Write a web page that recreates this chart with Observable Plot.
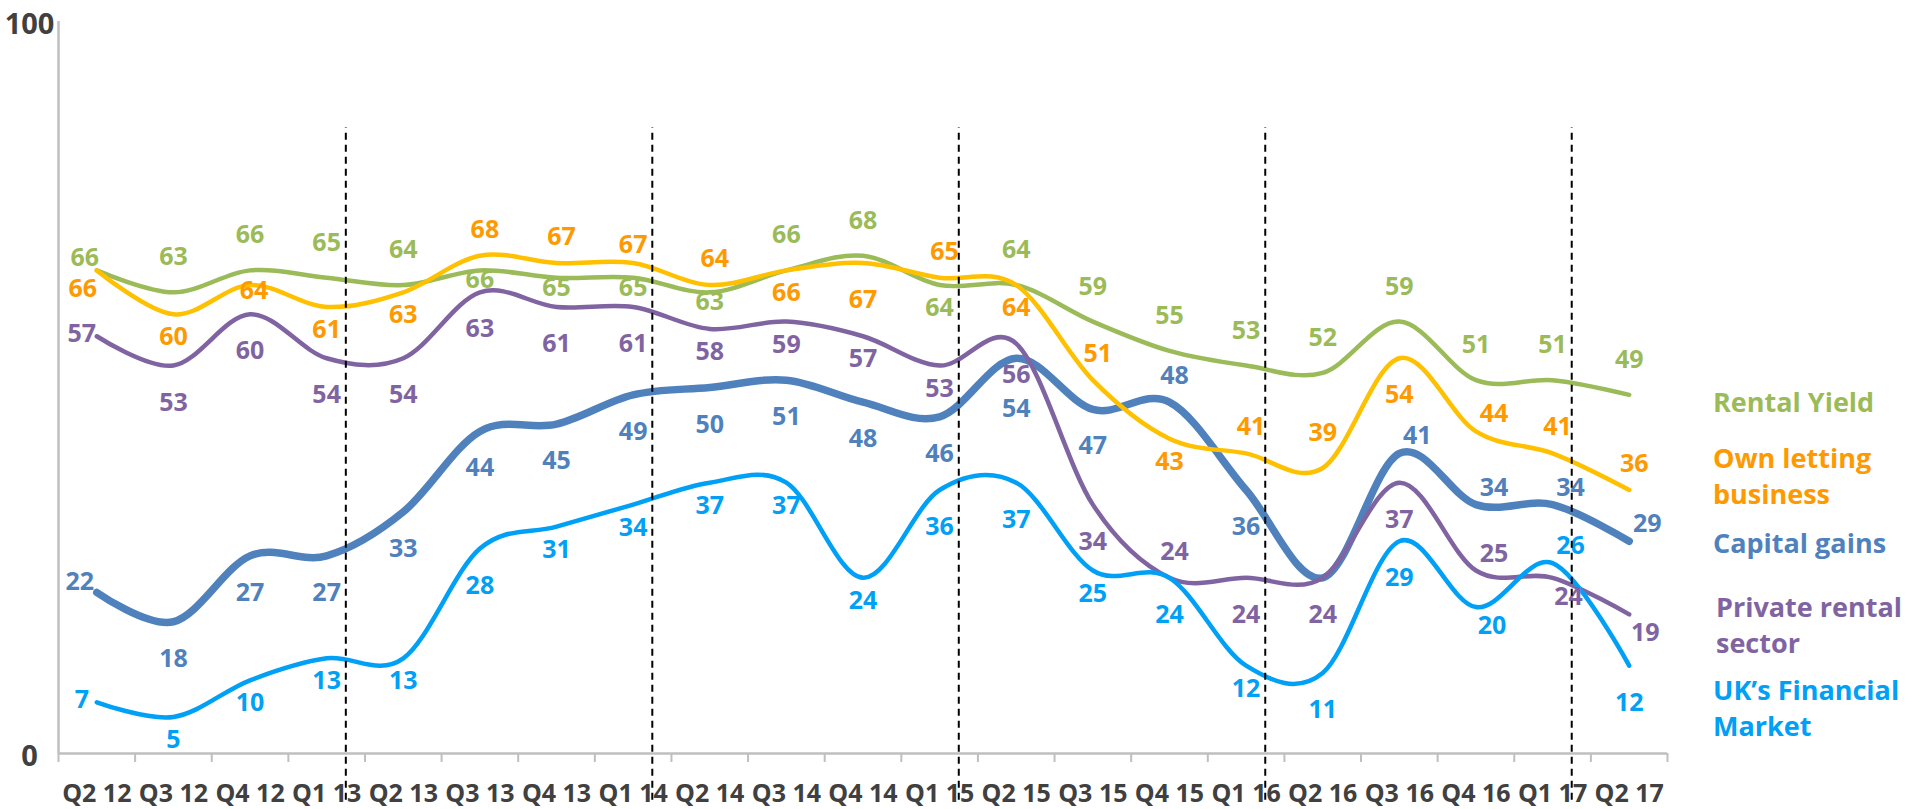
<!DOCTYPE html>
<html>
<head>
<meta charset="utf-8">
<script src="https://cdn.jsdelivr.net/npm/d3@7"></script>
<script src="https://cdn.jsdelivr.net/npm/@observablehq/plot@0.6"></script>
<style>
  html, body { margin: 0; padding: 0; background: #fff; overflow: hidden; }
  #wrap { position: relative; width: 1909px; height: 809px; }
  .leg { position: absolute; left: 1713px; font-family: "Open Sans", "Noto Sans", sans-serif; font-weight: 700; font-size: 27px; line-height: 36px; white-space: nowrap; }
</style>
</head>
<body>
<div id="wrap"></div>
<script>
// ---- data ----
const quarters = ["Q2 12","Q3 12","Q4 12","Q1 13","Q2 13","Q3 13","Q4 13","Q1 14","Q2 14","Q3 14","Q4 14","Q1 15","Q2 15","Q3 15","Q4 15","Q1 16","Q2 16","Q3 16","Q4 16","Q1 17","Q2 17"];
const rentalYield   = [66,63,66,65,64,66,65,65,63,66,68,64,64,59,55,53,52,59,51,51,49];
const ownLetting    = [66,60,64,61,63,68,67,67,64,66,67,65,64,51,43,41,39,54,44,41,36];
const capitalGains  = [22,18,27,27,33,44,45,49,50,51,48,46,54,47,48,36,24,41,34,34,29];
const privateRental = [57,53,60,54,54,63,61,61,58,59,57,53,56,34,24,24,24,37,25,24,19];
const ukFinancial   = [7,5,10,13,13,28,31,34,37,37,24,36,37,25,24,12,11,29,20,26,12];
const seriesNames   = ["Rental Yield", "Own letting business", "Capital gains", "Private rental sector", "UK\u2019s Financial Market"];
const yTicks = [0, 100];
const yearStartQuarter = "Q1";

// ---- styles ----
const FONT = "'Open Sans', 'Noto Sans', sans-serif";
const series = [
  {name: seriesNames[2], values: capitalGains,  line: "#4F81BD", label: "#4F81BD", width: 7.5, place: "kBBBBBBBBBBBDBaBnRRRR"},
  {name: seriesNames[0], values: rentalYield,   line: "#9BBB59", label: "#9BBB59", width: 4.5, place: "lAAAAccccAAbAAAAAAAAA"},
  {name: seriesNames[1], values: ownLetting,    line: "#FFC000", label: "#FF9900", width: 4.5, place: "obmbbaahabBababaABRaa"},
  {name: seriesNames[3], values: privateRental, line: "#8064A2", label: "#8064A2", width: 4.5, place: "LBBBBBBBbbbbPBaBBBRrr"},
  {name: seriesNames[4], values: ukFinancial,   line: "#00A0F6", label: "#00A0F6", width: 4.5, place: "LbbbbBbbbbbBBbBbBBrRB"}
];
// label placement codes -> pixel offsets
const offsets = {
  A: [0,-35], a: [5,-26], h: [0,-18], c: [0,10], m: [4,6], b: [0,23], B: [0,37], D: [0,51], P: [0,31],
  l: [-12,-12], o: [-14,19], k: [-17,-10], L: [-15,-2], R: [18,-17], r: [16,19]
};

const lineMarks = series.map(s => Plot.line(s.values, {
  x: (d, i) => i + 0.5, y: d => d, curve: "cardinal",
  stroke: s.line, strokeWidth: s.width, strokeLinecap: "round", strokeLinejoin: "round"
}));

const labelMarks = [];
for (const s of series) {
  const pts = s.values.map((v, i) => ({i, v, code: s.place[i]}));
  for (const [code, [dx, dy]] of Object.entries(offsets)) {
    const sub = pts.filter(p => p.code === code);
    if (!sub.length) continue;
    labelMarks.push(Plot.text(sub, {
      x: p => p.i + 0.5, y: "v", text: p => String(p.v),
      dx, dy, fill: s.label, fontSize: 25, fontWeight: 700, fontFamily: FONT,
      textAnchor: "middle", lineAnchor: "middle"
    }));
  }
}

const dividerIdx = quarters.map((q, i) => q.startsWith(yearStartQuarter) ? i : -1).filter(i => i >= 0);

const chart = Plot.plot({
  width: 1909, height: 809,
  marginLeft: 58, marginRight: 242, marginTop: 21, marginBottom: 56,
  x: {type: "linear", domain: [0, quarters.length], axis: null},
  y: {domain: [0, 100], axis: null},
  style: {fontFamily: FONT, background: "#fff"},
  marks: [
    Plot.ruleX([0], {y1: 0, y2: 100, stroke: "#BFBFBF", strokeWidth: 2.5}),
    Plot.ruleY([0], {x1: 0, x2: quarters.length, stroke: "#BFBFBF", strokeWidth: 2.5}),
    Plot.axisX({ticks: d3.range(quarters.length + 1), tickSize: 9, tickFormat: () => "", label: null, stroke: "#BFBFBF", strokeWidth: 2}),
    Plot.text(quarters, {x: (d, i) => i + 0.5, frameAnchor: "bottom", dy: 40, text: d => d,
      fill: "#404040", fontSize: 25, fontWeight: 700, fontFamily: FONT, lineAnchor: "middle"}),
    Plot.axisY({ticks: yTicks, tickSize: 0, tickPadding: 29, textAnchor: "middle", dy: 3, label: null,
      fill: "#404040", fontSize: 29, fontWeight: 700, fontFamily: FONT, tickFormat: d => String(d)}),
    ...lineMarks,
    ...labelMarks,
    Plot.ruleX(dividerIdx, {x: i => i + 0.75, y1: -6.4, y2: 85.5, stroke: "#000", strokeWidth: 2, strokeDasharray: "7,5"})
  ]
});

const wrap = document.getElementById("wrap");
wrap.appendChild(chart);

// legend (right side labels)
const legend = [
  {text: ["Rental Yield"], color: "#9BBB59", center: 402},
  {text: ["Own letting", "business"], color: "#FF9900", center: 458},
  {text: ["Capital gains"], color: "#4F81BD", center: 543},
  {text: ["Private rental", "sector"], color: "#8064A2", center: 607, left: 1716},
  {text: ["UK\u2019s Financial", "Market"], color: "#00A0F6", center: 690}
];
for (const l of legend) {
  const div = document.createElement("div");
  div.className = "leg";
  div.style.color = l.color;
  div.style.top = (l.center - 18) + "px";
  if (l.left) div.style.left = l.left + "px";
  div.innerHTML = l.text.join("<br>");
  wrap.appendChild(div);
}
</script>
</body>
</html>
